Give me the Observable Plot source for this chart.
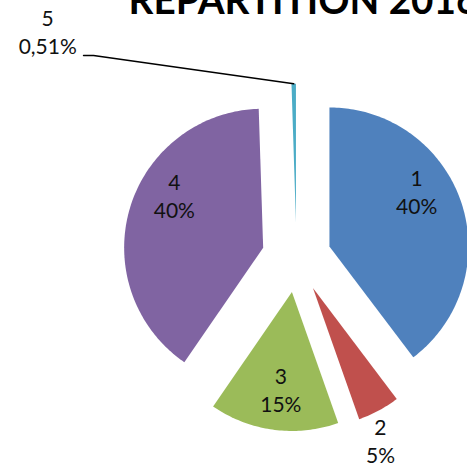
<!DOCTYPE html>
<html>
<head>
<meta charset="utf-8">
<script src="https://cdn.jsdelivr.net/npm/d3@7"></script>
<script src="https://cdn.jsdelivr.net/npm/@observablehq/plot@0.6"></script>
<style>
  html, body { margin: 0; padding: 0; background: #fff; }
</style>
</head>
<body>
<script>
// ---- data ----
const title = "REPARTITION 2016";
const categories = ["1", "2", "3", "4", "5"];
const values = [39.7, 4.9, 15.0, 39.89, 0.51];
const colors = ["#4F81BD", "#C0504D", "#9BBB59", "#8064A2", "#4BACC6"];

// ---- layout (pixels / pie units) ----
const W = 467, H = 465;
const R = 139;               // pie radius in px
const CX = 296, CY = 257;    // pie centre in px
const explode = 0.25;        // explosion distance (radius units)
const insideDist = 0.73;     // inside label distance from slice apex
const outsideDist = 1.22;    // outside label distance from slice apex
const labelPull = 0.83;      // label angle pulled toward vertical axis
const calloutLabel = {x: -1.79, y: 1.60};  // manually moved label of slice 5
const leaderStart = [{x: -1.532, y: 1.453}, {x: -1.46, y: 1.453}];

const total = d3.sum(values);
const fmtPct = v => {
  const p = v / total * 100;
  return p >= 1 ? Math.round(p) + "%" : p.toFixed(2).replace(".", ",") + "%";
};

// slice angles, clockwise from 12 o'clock
let acc = 0;
const slices = categories.map((c, i) => {
  const a0 = acc / total * 2 * Math.PI;
  acc += values[i];
  const a1 = acc / total * 2 * Math.PI;
  const mid = (a0 + a1) / 2;
  const apex = {x: explode * Math.sin(mid), y: explode * Math.cos(mid)};
  return {cat: c, value: values[i], a0, a1, mid, apex, color: colors[i]};
});

const polys = slices.map(s => {
  const pts = [{x: s.apex.x, y: s.apex.y}];
  const n = Math.max(2, Math.ceil((s.a1 - s.a0) / (Math.PI / 180)) + 1);
  for (let k = 0; k <= n; k++) {
    const a = s.a0 + (s.a1 - s.a0) * k / n;
    pts.push({x: s.apex.x + Math.sin(a), y: s.apex.y + Math.cos(a)});
  }
  return pts;
});

// label placement
const labelAngle = m => {
  const ref = m < Math.PI / 2 ? 0 : m < 3 * Math.PI / 2 ? Math.PI : 2 * Math.PI;
  return ref + (m - ref) * labelPull;
};
const labels = slices.map((s, i) => {
  const text = s.cat + "\n" + fmtPct(s.value);
  const frac = s.value / total;
  if (frac < 0.01) return {x: calloutLabel.x, y: calloutLabel.y, text};
  const a = labelAngle(s.mid);
  const d = frac < 0.1 ? outsideDist : insideDist;
  return {x: s.apex.x + d * Math.sin(a), y: s.apex.y + d * Math.cos(a), text};
});

const s5 = slices[4];
const leader = [...leaderStart,
  {x: s5.apex.x + Math.sin(s5.mid), y: s5.apex.y + Math.cos(s5.mid)}];

const marks = [];
slices.forEach((s, i) => {
  marks.push(Plot.line(polys[i], {x: "x", y: "y", fill: s.color, stroke: "none", curve: "linear-closed"}));
});
marks.push(Plot.line(leader, {x: "x", y: "y", stroke: "#000", strokeWidth: 1.5}));
marks.push(Plot.text(labels, {x: "x", y: "y", text: "text", fontSize: 21, lineHeight: 1.33, dy: -4, fill: "#111", textAnchor: "middle"}));
marks.push(Plot.text([title], {frameAnchor: "top-left", dx: 128, dy: 13, lineAnchor: "bottom", textAnchor: "start", fontSize: 40, fontWeight: "bold", fill: "#000"}));

const svg = Plot.plot({
  width: W, height: H, margin: 0,
  x: {domain: [-CX / R, (W - CX) / R], range: [0, W], axis: null},
  y: {domain: [-(H - CY) / R, CY / R], range: [H, 0], axis: null},
  style: {fontFamily: "Lato, 'Open Sans', sans-serif", background: "#fff"},
  marks
});
d3.select(svg).selectAll("text")
  .filter(function () { return this.textContent === title; })
  .attr("textLength", 350).attr("lengthAdjust", "spacingAndGlyphs");
document.body.appendChild(svg);
</script>
</body>
</html>
